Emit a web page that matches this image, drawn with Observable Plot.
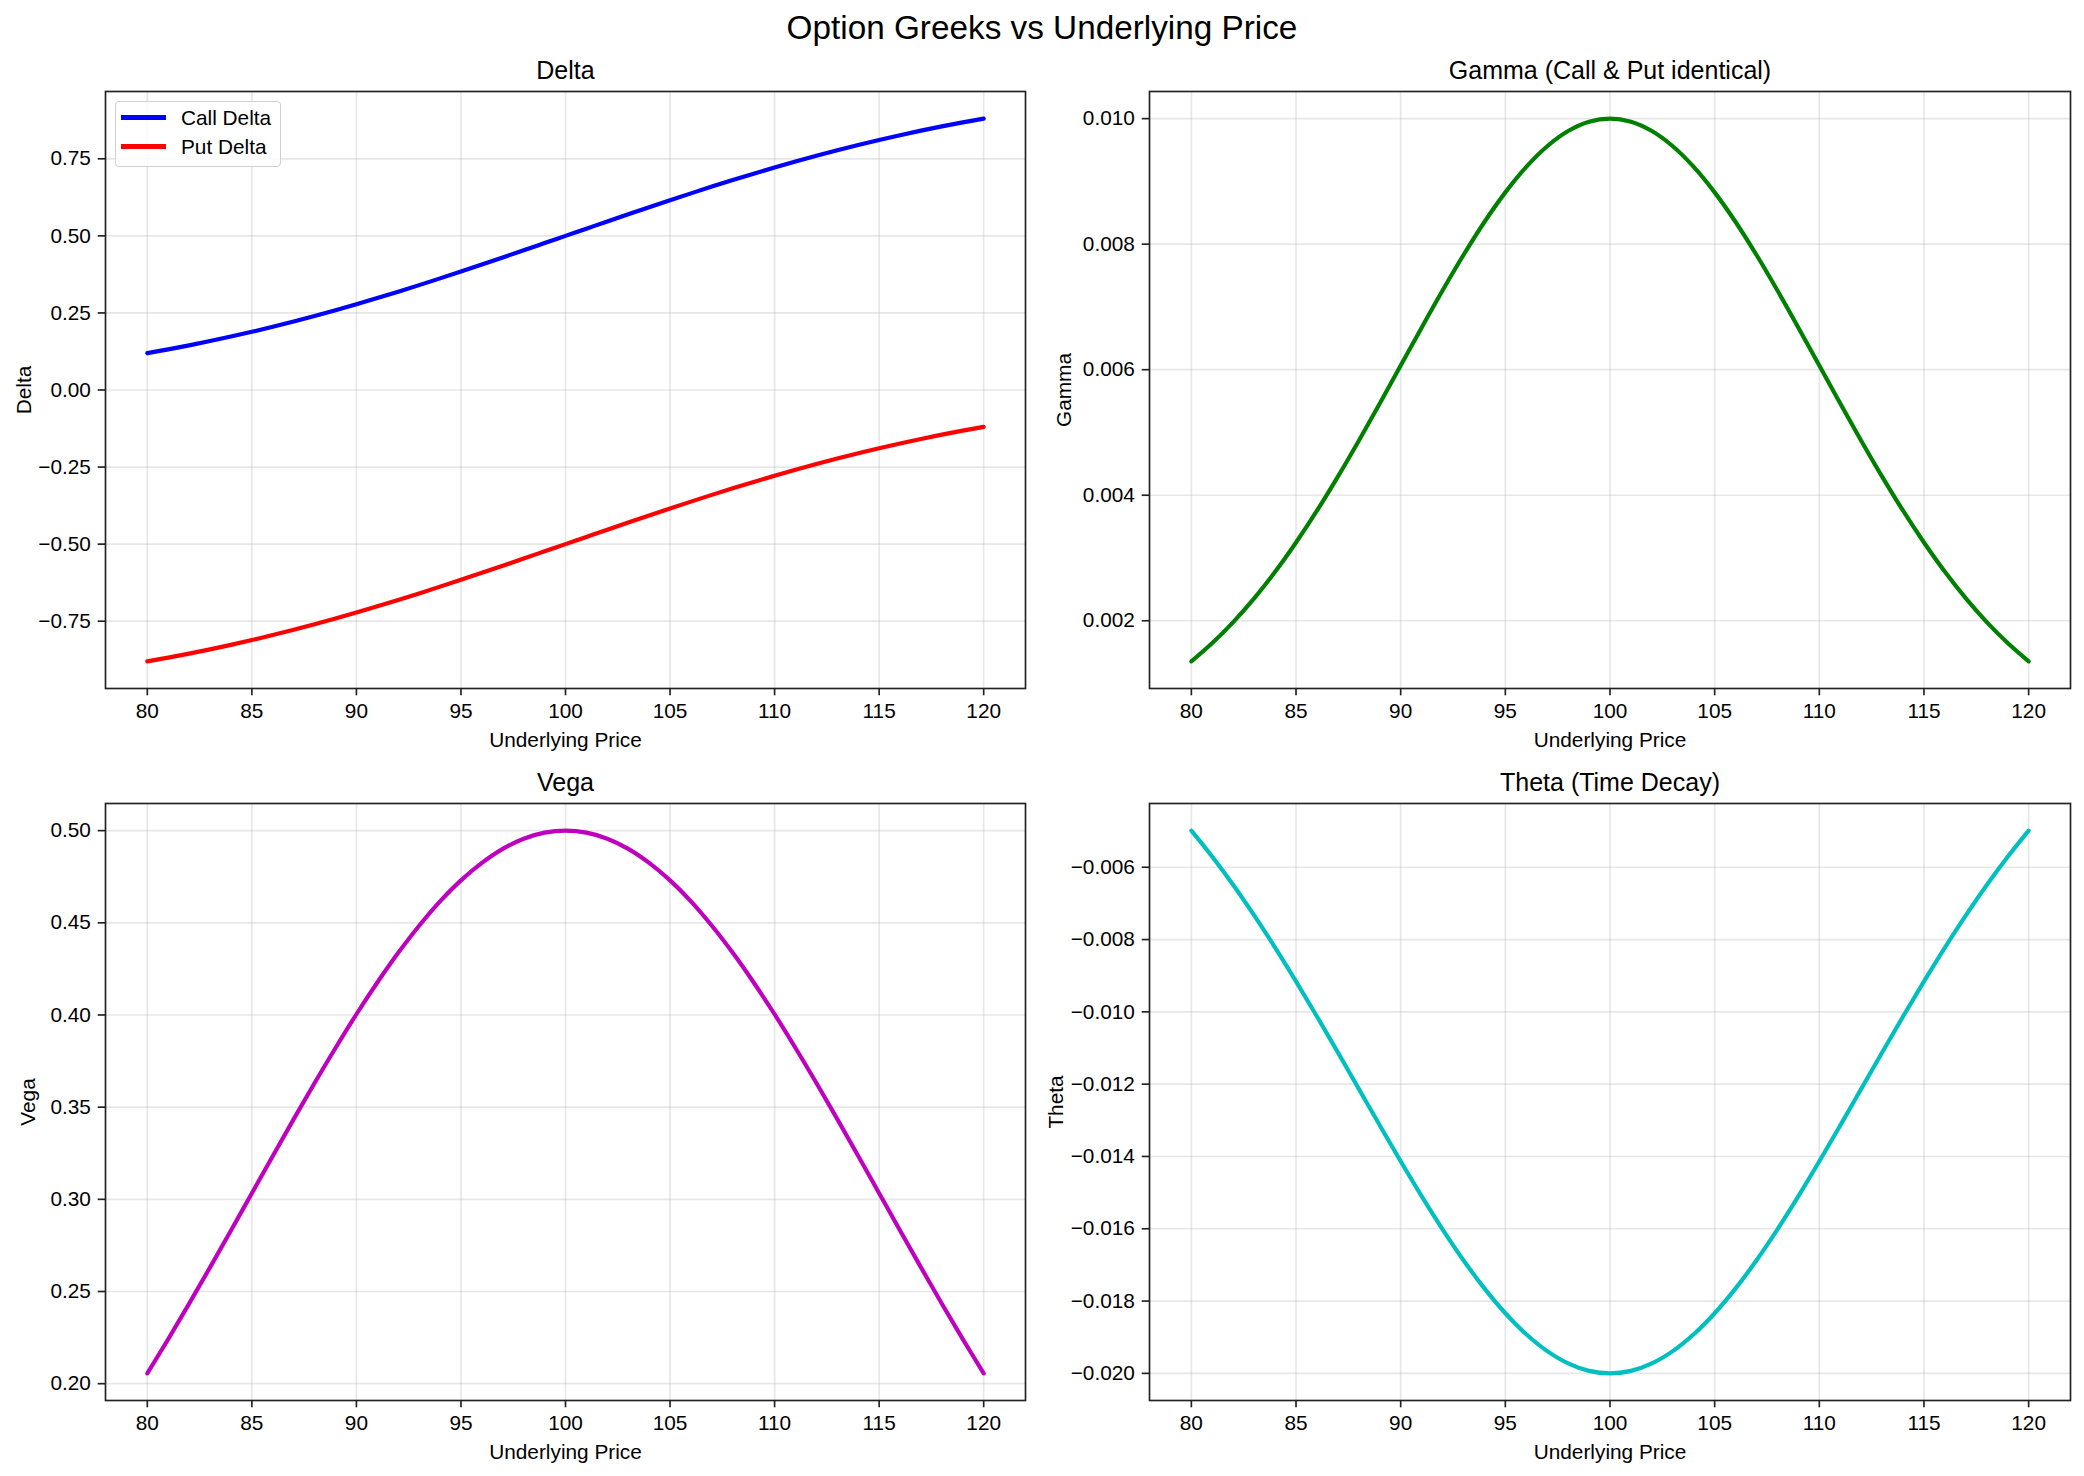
<!DOCTYPE html>
<html>
<head>
<meta charset="utf-8">
<script src="https://cdn.jsdelivr.net/npm/d3@7"></script>
<script src="https://cdn.jsdelivr.net/npm/@observablehq/plot@0.6"></script>
<style>
  html, body { margin: 0; padding: 0; background: #fff; }
  #fig { position: relative; width: 2084px; height: 1476px; background: #fff;
         font-family: "Liberation Sans", Arial, Helvetica, sans-serif; color: #000; }
  #fig svg { position: absolute; overflow: visible; }
  .suptitle { position: absolute; left: 0; top: 11px; width: 2084px; text-align: center;
              font-size: 33.3px; line-height: 1; }
  .legend { position: absolute; box-sizing: border-box; background: rgba(255,255,255,0.8);
            border: 1.6px solid #d0d0d0; border-radius: 4px; padding: 1px 0 0 5px; white-space: nowrap; }
  .legend .row { display: flex; align-items: center; height: 29px; font-size: 20.8px; white-space: nowrap; }
  .legend .swatch { flex: none; width: 45px; height: 4.2px; margin-right: 15px; }
</style>
</head>
<body>
<div id="fig"></div>
<script>
// Underlying price grid and the greeks sampled along it
const price = [80, 81, 82, 83, 84, 85, 86, 87, 88, 89, 90, 91, 92, 93, 94, 95, 96, 97, 98, 99, 100,
               101, 102, 103, 104, 105, 106, 107, 108, 109, 110, 111, 112, 113, 114, 115, 116, 117, 118, 119, 120];

const callDelta = [0.1197, 0.1319, 0.1449, 0.1587, 0.1733, 0.1888, 0.2051, 0.2222, 0.2401, 0.2588, 0.2782,
                   0.2983, 0.3190, 0.3402, 0.3621, 0.3843, 0.4070, 0.4300, 0.4532, 0.4766, 0.5000,
                   0.5234, 0.5468, 0.5700, 0.5930, 0.6157, 0.6379, 0.6598, 0.6810, 0.7017, 0.7218,
                   0.7412, 0.7599, 0.7778, 0.7949, 0.8112, 0.8267, 0.8413, 0.8551, 0.8681, 0.8803];

const putDelta = [-0.8803, -0.8681, -0.8551, -0.8413, -0.8267, -0.8112, -0.7949, -0.7778, -0.7599, -0.7412, -0.7218,
                  -0.7017, -0.6810, -0.6598, -0.6379, -0.6157, -0.5930, -0.5700, -0.5468, -0.5234, -0.5000,
                  -0.4766, -0.4532, -0.4300, -0.4070, -0.3843, -0.3621, -0.3402, -0.3190, -0.2983, -0.2782,
                  -0.2588, -0.2401, -0.2222, -0.2051, -0.1888, -0.1733, -0.1587, -0.1449, -0.1319, -0.1197];

const gamma = [0.001353, 0.001645, 0.001979, 0.002357, 0.002780, 0.003247, 0.003753, 0.004296, 0.004868, 0.005461, 0.006065,
               0.006670, 0.007261, 0.007827, 0.008353, 0.008825, 0.009231, 0.009560, 0.009802, 0.009950, 0.010000,
               0.009950, 0.009802, 0.009560, 0.009231, 0.008825, 0.008353, 0.007827, 0.007261, 0.006670, 0.006065,
               0.005461, 0.004868, 0.004296, 0.003753, 0.003247, 0.002780, 0.002357, 0.001979, 0.001645, 0.001353];

const vega = [0.2056, 0.2242, 0.2434, 0.2631, 0.2831, 0.3033, 0.3235, 0.3435, 0.3631, 0.3821, 0.4004,
              0.4176, 0.4337, 0.4484, 0.4616, 0.4730, 0.4825, 0.4901, 0.4956, 0.4989, 0.5000,
              0.4989, 0.4956, 0.4901, 0.4825, 0.4730, 0.4616, 0.4484, 0.4337, 0.4176, 0.4004,
              0.3821, 0.3631, 0.3435, 0.3235, 0.3033, 0.2831, 0.2631, 0.2434, 0.2242, 0.2056];

const theta = [-0.004987, -0.005710, -0.006493, -0.007332, -0.008222, -0.009157, -0.010127, -0.011122, -0.012131, -0.013139, -0.014133,
               -0.015097, -0.016015, -0.016871, -0.017650, -0.018337, -0.018919, -0.019385, -0.019724, -0.019931, -0.020000,
               -0.019931, -0.019724, -0.019385, -0.018919, -0.018337, -0.017650, -0.016871, -0.016015, -0.015097, -0.014133,
               -0.013139, -0.012131, -0.011122, -0.010127, -0.009157, -0.008222, -0.007332, -0.006493, -0.005710, -0.004987];

// Tick positions
const priceTicks = [80, 85, 90, 95, 100, 105, 110, 115, 120];
const deltaTicks = [-0.75, -0.5, -0.25, 0, 0.25, 0.5, 0.75];
const gammaTicks = [0.002, 0.004, 0.006, 0.008, 0.010];
const vegaTicks = [0.20, 0.25, 0.30, 0.35, 0.40, 0.45, 0.50];
const thetaTicks = [-0.020, -0.018, -0.016, -0.014, -0.012, -0.010, -0.008, -0.006];

const FONT = 20.8;
const LINE_W = 4.17;
const fig = document.getElementById("fig");

// Padded extent, 5% of the data range on each side
function padded(values, frac = 0.05) {
  const [lo, hi] = d3.extent(values);
  const m = (hi - lo) * frac;
  return [lo - m, hi + m];
}

function panel({left, top, width, height, margins, title, ylabel, ylabelOffset, series, yTicks, yFormat}) {
  const rows = series.flatMap(s => price.map((p, i) => ({price: p, value: s.values[i], name: s.name})));
  const yDomain = padded(series.flatMap(s => s.values));
  const xDomain = padded(price);
  const chart = Plot.plot({
    width, height,
    marginLeft: margins[0], marginRight: margins[1], marginTop: margins[2], marginBottom: margins[3],
    style: {fontFamily: '"Liberation Sans", Arial, sans-serif', fontSize: FONT + "px", color: "#000", background: "transparent"},
    x: {domain: xDomain},
    y: {domain: yDomain},
    marks: [
      Plot.gridX(priceTicks, {stroke: "#b0b0b0", strokeOpacity: 0.3, strokeWidth: 1.67}),
      Plot.gridY(yTicks, {stroke: "#b0b0b0", strokeOpacity: 0.3, strokeWidth: 1.67}),
      ...series.map(s => Plot.line(rows.filter(r => r.name === s.name), {
        x: "price", y: "value", stroke: s.color, strokeWidth: LINE_W, curve: "catmull-rom"
      })),
      Plot.frame({stroke: "#222", strokeWidth: 1.67}),
      Plot.axisX(priceTicks, {
        tickSize: 7.3, tickPadding: 7.3, stroke: "#222", strokeWidth: 1.67,
        label: "Underlying Price", labelAnchor: "center", labelArrow: "none", labelOffset: 58,
        tickFormat: d => String(d)
      }),
      Plot.axisY(yTicks, {
        tickSize: 7.3, tickPadding: 7.3, stroke: "#222", strokeWidth: 1.67,
        label: ylabel, labelAnchor: "center", labelArrow: "none", labelOffset: ylabelOffset,
        tickFormat: d3.format(yFormat)
      }),
      Plot.text([title], {frameAnchor: "top", lineAnchor: "bottom", dy: -12.5, fontSize: 25, fill: "#000"})
    ]
  });
  chart.style.left = left + "px";
  chart.style.top = top + "px";
  fig.appendChild(chart);
}

// Figure title
const sup = document.createElement("div");
sup.className = "suptitle";
sup.textContent = "Option Greeks vs Underlying Price";
fig.appendChild(sup);

panel({
  left: 0, top: 40, width: 1042, height: 740, margins: [105, 17, 51, 92],
  title: "Delta", ylabel: "Delta", ylabelOffset: 89,
  series: [
    {name: "Call Delta", values: callDelta, color: "#0000ff"},
    {name: "Put Delta", values: putDelta, color: "#ff0000"}
  ],
  yTicks: deltaTicks, yFormat: ".2f"
});

panel({
  left: 1042, top: 40, width: 1042, height: 740, margins: [107, 14, 51, 92],
  title: "Gamma (Call & Put identical)", ylabel: "Gamma", ylabelOffset: 93,
  series: [{name: "Gamma", values: gamma, color: "#008000"}],
  yTicks: gammaTicks, yFormat: ".3f"
});

panel({
  left: 0, top: 752, width: 1042, height: 724, margins: [105, 17, 51, 76],
  title: "Vega", ylabel: "Vega", ylabelOffset: 85,
  series: [{name: "Vega", values: vega, color: "#bf00bf"}],
  yTicks: vegaTicks, yFormat: ".2f"
});

panel({
  left: 1042, top: 752, width: 1042, height: 724, margins: [107, 14, 51, 76],
  title: "Theta (Time Decay)", ylabel: "Theta", ylabelOffset: 101,
  series: [{name: "Theta", values: theta, color: "#00bfbf"}],
  yTicks: thetaTicks, yFormat: ".3f"
});

// Legend for the delta panel
const legend = document.createElement("div");
legend.className = "legend";
legend.style.left = "115px";
legend.style.top = "101px";
legend.style.width = "166px";
legend.style.height = "66px";
[["Call Delta", "#0000ff"], ["Put Delta", "#ff0000"]].forEach(([label, color]) => {
  const row = document.createElement("div");
  row.className = "row";
  const sw = document.createElement("div");
  sw.className = "swatch";
  sw.style.background = color;
  const tx = document.createElement("span");
  tx.textContent = label;
  row.appendChild(sw);
  row.appendChild(tx);
  legend.appendChild(row);
});
fig.appendChild(legend);
</script>
</body>
</html>
